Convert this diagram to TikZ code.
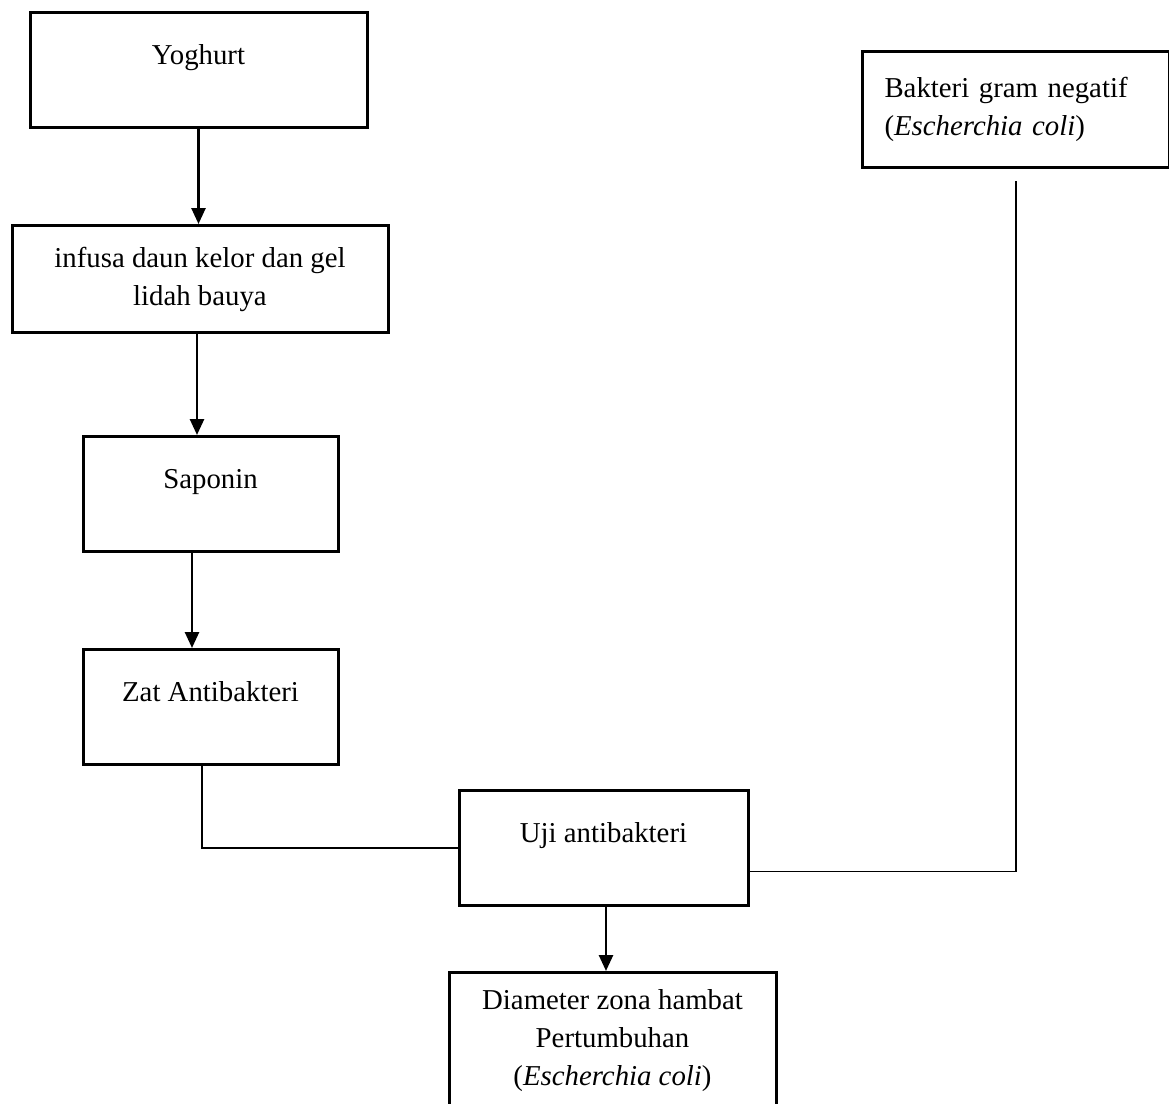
\documentclass[tikz,border=0pt]{standalone}
\usepackage{fontspec}
\setmainfont{Liberation Serif}
\usepackage{tikz}
\usetikzlibrary{arrows.meta,positioning}

\begin{document}
\begin{tikzpicture}[font=\fontsize{14.4pt}{19pt}\selectfont,
onebox/.style={draw,line width=1.5pt,inner ysep=0pt,text height=26pt,text depth=31.5pt,align=center},
multibox/.style={draw,line width=1.5pt,align=center},
arr/.style={line width=1.3pt,-{Triangle[length=8pt,width=7pt]}},
link/.style={line width=0.6pt}]
\useasboundingbox (0,0) rectangle (584.5pt,-552pt);
\node[onebox,minimum width=168.5pt,anchor=north] (yog) at (99.25pt,-5.5pt) {Yoghurt};
\node[multibox,minimum width=188pt,minimum height=53.5pt,below=47.5pt of yog,xshift=0.75pt] (inf) {infusa daun kelor dan gel\\lidah bauya};
\node[onebox,minimum width=127.5pt,below=50.5pt of inf,xshift=5.25pt] (sap) {Saponin};
\node[onebox,minimum width=127.5pt,below=47.5pt of sap] (zat) {Zat Antibakteri};
\node[onebox,minimum width=144.5pt,below right=11.5pt and 59pt of zat] (uji) {Uji antibakteri};
\node[multibox,minimum width=163.5pt,minimum height=68pt,below=32pt of uji,xshift=4.5pt] (dia) {Diameter zona hambat\\Pertumbuhan\\(\textit{Escherchia coli})};
\node[multibox,align=left,text width=131.5pt,inner xsep=11pt,minimum height=58pt,anchor=north west] (bak) at (430.5pt,-25pt) {Bakteri gram negatif\\(\textit{Escherchia coli})};
\coordinate[below=6pt of bak.south] (bakend);
\draw[arr] (yog.south) -- (yog.south |- inf.north);
\draw[arr] ([xshift=-6.75pt]sap.north |- inf.south) -- ([xshift=-6.75pt]sap.north);
\draw[arr] ([xshift=-9.25pt]sap.south) -- ([xshift=-9.25pt]zat.north);
\draw[arr] ([xshift=1.25pt]uji.south) -- ([xshift=1.25pt]uji.south |- dia.north);
\draw[link] ([xshift=-4.25pt]zat.south) |- (uji.west);
\draw[link] (bakend) |- ([yshift=-11.75pt]uji.east);
\end{tikzpicture}
\end{document}
